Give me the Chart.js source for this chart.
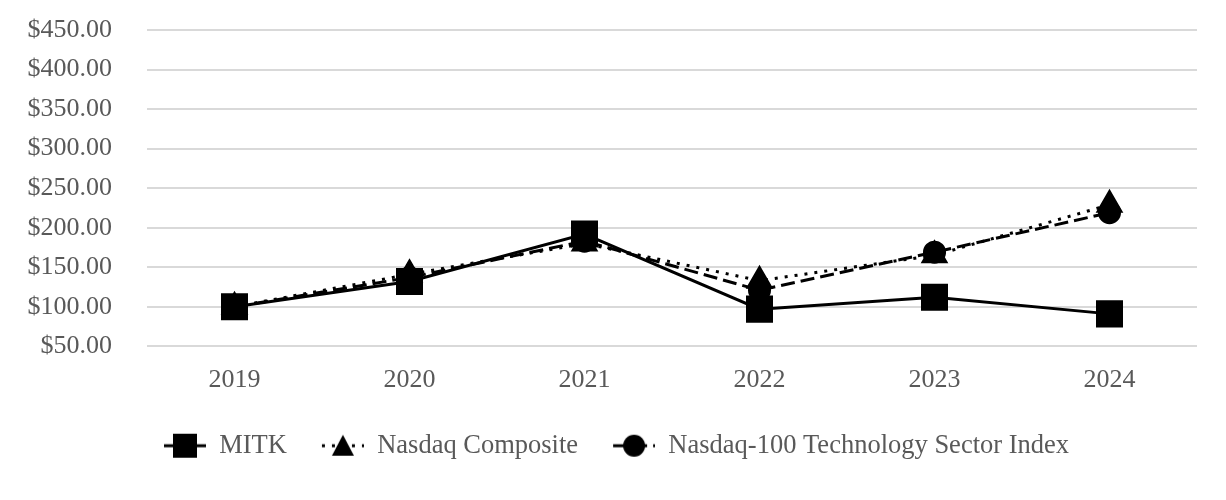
<!DOCTYPE html>
<html lang="en">
  <head>
    <meta charset="UTF-8" />
    <title>Cumulative Total Return</title>
    <style>
      html, body {
        margin: 0;
        padding: 0;
        background: #ffffff;
      }
      #wrap {
        width: 1226px;
        height: 500px;
      }
    </style>
    <script src="https://cdn.jsdelivr.net/npm/chart.js@4"></script>
  </head>
  <body>
    <div id="wrap"><canvas id="returnChart"></canvas></div>
    <script>
      const years = ["2019", "2020", "2021", "2022", "2023", "2024"];
      const mitk = [100, 132, 192, 97, 112, 91];
      const nasdaqComposite = [100, 141, 180, 133, 165, 229];
      const nasdaqTech = [100, 137, 183, 121, 169, 219];

      const font = "'Liberation Serif', 'Times New Roman', serif";

      // legend icon: a short line in the series' dash style with its marker on top,
      // with some blank room on the left so items sit further apart
      const lead = 8;
      const iconW = 42;
      function legendIcon(dash, marker) {
        const c = document.createElement("canvas");
        c.width = iconW + lead;
        c.height = 26;
        const ctx = c.getContext("2d");
        ctx.translate(lead, 0);
        ctx.strokeStyle = "#000";
        ctx.lineWidth = 3;
        ctx.setLineDash(dash);
        ctx.beginPath();
        ctx.moveTo(0, 13);
        ctx.lineTo(iconW, 13);
        ctx.stroke();
        ctx.setLineDash([]);
        ctx.fillStyle = "#000";
        ctx.beginPath();
        const m = iconW / 2;
        if (marker === "rect") {
          ctx.rect(m - 12, 1, 24, 24);
        } else if (marker === "triangle") {
          ctx.moveTo(m, 2);
          ctx.lineTo(m + 11, 23);
          ctx.lineTo(m - 11, 23);
          ctx.closePath();
        } else {
          ctx.arc(m, 13, 11, 0, Math.PI * 2);
        }
        ctx.fill();
        return c;
      }

      const icons = [
        legendIcon([], "rect"),
        legendIcon([3, 7], "triangle"),
        legendIcon([14, 6], "circle"),
      ];

      new Chart(document.getElementById("returnChart").getContext("2d"), {
        type: "line",
        data: {
          labels: years,
          datasets: [
            {
              label: "MITK",
              data: mitk,
              borderColor: "#000",
              backgroundColor: "#000",
              borderWidth: 3,
              pointStyle: "rect",
              pointRadius: 17,
              pointHoverRadius: 17,
              fill: false,
            },
            {
              label: "Nasdaq Composite",
              data: nasdaqComposite,
              borderColor: "#000",
              backgroundColor: "#000",
              borderWidth: 3,
              borderDash: [3, 7],
              pointStyle: "triangle",
              pointRadius: 13,
              pointHoverRadius: 13,
              fill: false,
            },
            {
              label: "Nasdaq-100 Technology Sector Index",
              data: nasdaqTech,
              borderColor: "#000",
              backgroundColor: "#000",
              borderWidth: 3,
              borderDash: [14, 6],
              pointStyle: "circle",
              pointRadius: 10,
              pointHoverRadius: 10,
              fill: false,
            },
          ],
        },
        options: {
          responsive: true,
          maintainAspectRatio: false,
          animation: false,
          layout: {
            autoPadding: false,
            padding: { left: 28, right: 29, top: 30, bottom: 31 },
          },
          plugins: {
            tooltip: { enabled: false },
            legend: {
              position: "bottom",
              labels: {
                usePointStyle: true,
                pointStyleWidth: iconW + lead,
                color: "#595959",
                font: { family: font, size: 26.5 },
                padding: 27,
                generateLabels: (chart) =>
                  chart.data.datasets.map((ds, i) => ({
                    text: ds.label,
                    pointStyle: icons[i],
                    fillStyle: "#000",
                    strokeStyle: "#000",
                    fontColor: "#595959",
                    lineWidth: 0,
                    datasetIndex: i,
                  })),
              },
            },
          },
          scales: {
            x: {
              offset: true,
              grid: { display: false },
              border: { display: false },
              ticks: {
                color: "#595959",
                font: { family: font, size: 26 },
                padding: 10,
              },
            },
            y: {
              min: 50,
              max: 450,
              grid: { color: "#d9d9d9", lineWidth: 2, drawTicks: false },
              border: { display: false },
              ticks: {
                stepSize: 50,
                color: "#595959",
                font: { family: font, size: 26 },
                padding: 35,
                callback: (v) => "$" + Number(v).toFixed(2),
              },
              // tick padding is counted on both sides of the labels; keep only one
              afterFit: (scale) => {
                scale.width = 119;
                scale.paddingTop = 0;
                scale.paddingBottom = 0;
              },
            },
          },
        },
      });
    </script>
  </body>
</html>
